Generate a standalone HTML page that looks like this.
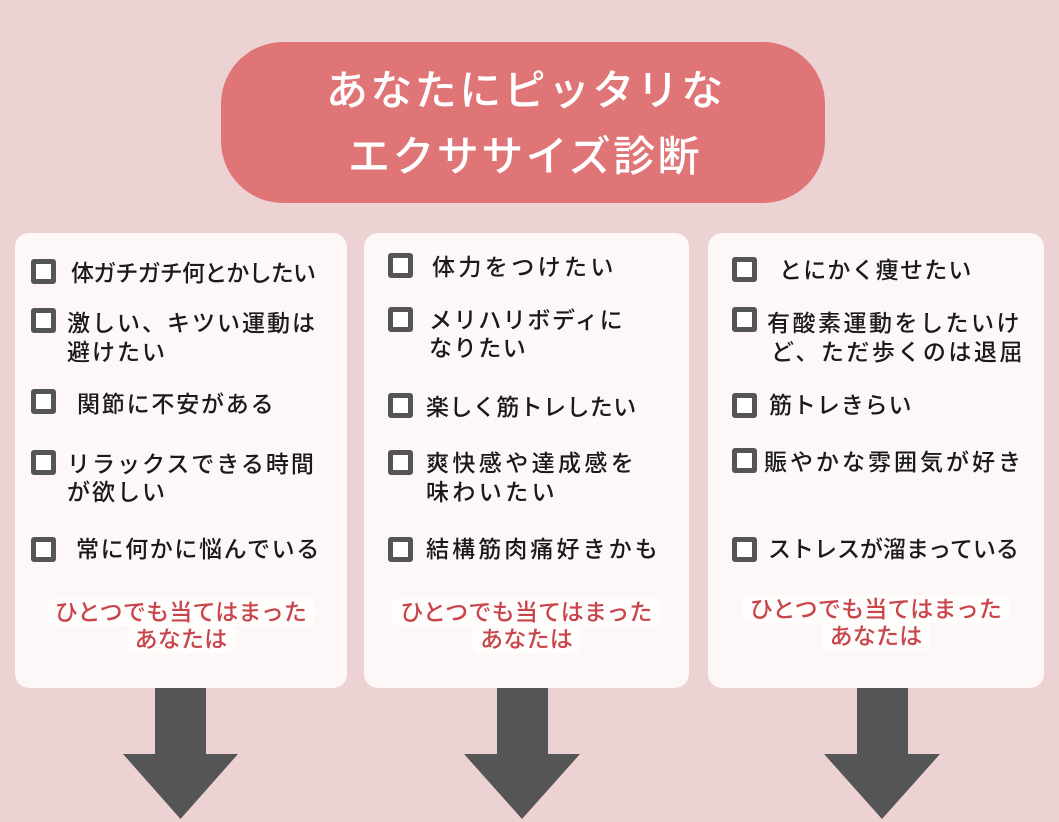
<!DOCTYPE html>
<html lang="ja">
<head>
<meta charset="utf-8">
<style>
  html, body { margin:0; padding:0; }
  body {
    width:1059px; height:822px; overflow:hidden; position:relative;
    background:#ecd2d3;
    font-family:"Liberation Sans","Noto Sans CJK JP",sans-serif;
  }
  .pill {
    position:absolute; left:221px; top:42px; width:604px; height:161px;
    background:#e07577; border-radius:62px;
  }
  .title {
    position:absolute; color:#fff; font-size:42px; font-weight:500;
    letter-spacing:2.4px; line-height:50px; height:50px; white-space:nowrap;
  }
  .card {
    position:absolute; top:233px; height:455px; background:#fdf8f7; border-radius:14px;
  }
  .cb {
    position:absolute; width:15px; height:15px; border:5px solid #555;
    border-radius:3px; background:#fff;
  }
  .t {
    position:absolute; font-size:23px; font-weight:500; color:#1a1a1a;
    line-height:28px; height:28px; white-space:nowrap;
  }
  .red {
    position:absolute; font-size:23px; font-weight:500; color:#c8454b;
    line-height:27px; text-align:center; white-space:nowrap; letter-spacing:0.2px;
  }
  .red span {
    background:#fffdfc; border-radius:8px; padding:1px 8px;
    box-decoration-break:clone; -webkit-box-decoration-break:clone;
  }
  svg { position:absolute; left:0; top:0; }
</style>
</head>
<body>
  <div class="pill"></div>
  <div class="title" style="left:326px; top:66px;">あなたにピッタリな</div>
  <div class="title" style="left:348px; top:132px;">エクササイズ診断</div>

  <div class="card" style="left:15px; width:332px;"></div>
  <div class="card" style="left:364px; width:325px;"></div>
  <div class="card" style="left:708px; width:336px;"></div>

  <!-- Card 1 -->
  <div class="cb" style="left:31px; top:259px;"></div>
  <div class="t" style="left:71px; top:259px; letter-spacing:-0.8px;">体ガチガチ何とかしたい</div>
  <div class="cb" style="left:31px; top:308px;"></div>
  <div class="t" style="left:67px; top:309px; letter-spacing:2px;">激しい、キツい運動は</div>
  <div class="t" style="left:67px; top:338px; letter-spacing:2px;">避けたい</div>
  <div class="cb" style="left:31px; top:389px;"></div>
  <div class="t" style="left:77px; top:390px; letter-spacing:1.8px;">関節に不安がある</div>
  <div class="cb" style="left:31px; top:450px;"></div>
  <div class="t" style="left:67px; top:450px; letter-spacing:2px;">リラックスできる時間</div>
  <div class="t" style="left:67px; top:478px; letter-spacing:2px;">が欲しい</div>
  <div class="cb" style="left:31px; top:537px;"></div>
  <div class="t" style="left:76px; top:535px; letter-spacing:1.6px;">常に何かに悩んでいる</div>
  <div class="red" style="left:15px; width:332px; top:599px;"><span>ひとつでも当てはまった<br>あなたは</span></div>

  <!-- Card 2 -->
  <div class="cb" style="left:388px; top:253px;"></div>
  <div class="t" style="left:432px; top:253px; letter-spacing:3.4px;">体力をつけたい</div>
  <div class="cb" style="left:388px; top:307px;"></div>
  <div class="t" style="left:429px; top:306px; letter-spacing:1.6px;">メリハリボディに</div>
  <div class="t" style="left:429px; top:334px; letter-spacing:1.6px;">なりたい</div>
  <div class="cb" style="left:388px; top:393px;"></div>
  <div class="t" style="left:426px; top:393px; letter-spacing:0.4px;">楽しく筋トレしたい</div>
  <div class="cb" style="left:388px; top:450px;"></div>
  <div class="t" style="left:426px; top:449px; letter-spacing:3.4px;">爽快感や達成感を</div>
  <div class="t" style="left:426px; top:478px; letter-spacing:3.4px;">味わいたい</div>
  <div class="cb" style="left:388px; top:537px;"></div>
  <div class="t" style="left:426px; top:535px; letter-spacing:3.1px;">結構筋肉痛好きかも</div>
  <div class="red" style="left:364px; width:325px; top:599px;"><span>ひとつでも当てはまった<br>あなたは</span></div>

  <!-- Card 3 -->
  <div class="cb" style="left:732px; top:257px;"></div>
  <div class="t" style="left:779px; top:256px; letter-spacing:1.2px;">とにかく痩せたい</div>
  <div class="cb" style="left:732px; top:307px;"></div>
  <div class="t" style="left:767px; top:309px; letter-spacing:2.5px;">有酸素運動をしたいけ</div>
  <div class="t" style="left:771px; top:338px; letter-spacing:2.5px;">ど、ただ歩くのは退屈</div>
  <div class="cb" style="left:732px; top:393px;"></div>
  <div class="t" style="left:769px; top:391px; letter-spacing:0.9px;">筋トレきらい</div>
  <div class="cb" style="left:732px; top:448px;"></div>
  <div class="t" style="left:764px; top:448px; letter-spacing:3px;">賑やかな雰囲気が好き</div>
  <div class="cb" style="left:732px; top:537px;"></div>
  <div class="t" style="left:768px; top:535px; letter-spacing:0px;">ストレスが溜まっている</div>
  <div class="red" style="left:708px; width:336px; top:596px;"><span>ひとつでも当てはまった<br>あなたは</span></div>

  <svg width="1059" height="822" viewBox="0 0 1059 822">
    <polygon fill="#555555" points="155,688 206,688 206,754 238,754 180.5,819 123,754 155,754"/>
    <polygon fill="#555555" points="497,688 548,688 548,754 580,754 522,819 464,754 497,754"/>
    <polygon fill="#555555" points="857,688 908,688 908,754 940,754 882,819 824,754 857,754"/>
  </svg>
</body>
</html>
